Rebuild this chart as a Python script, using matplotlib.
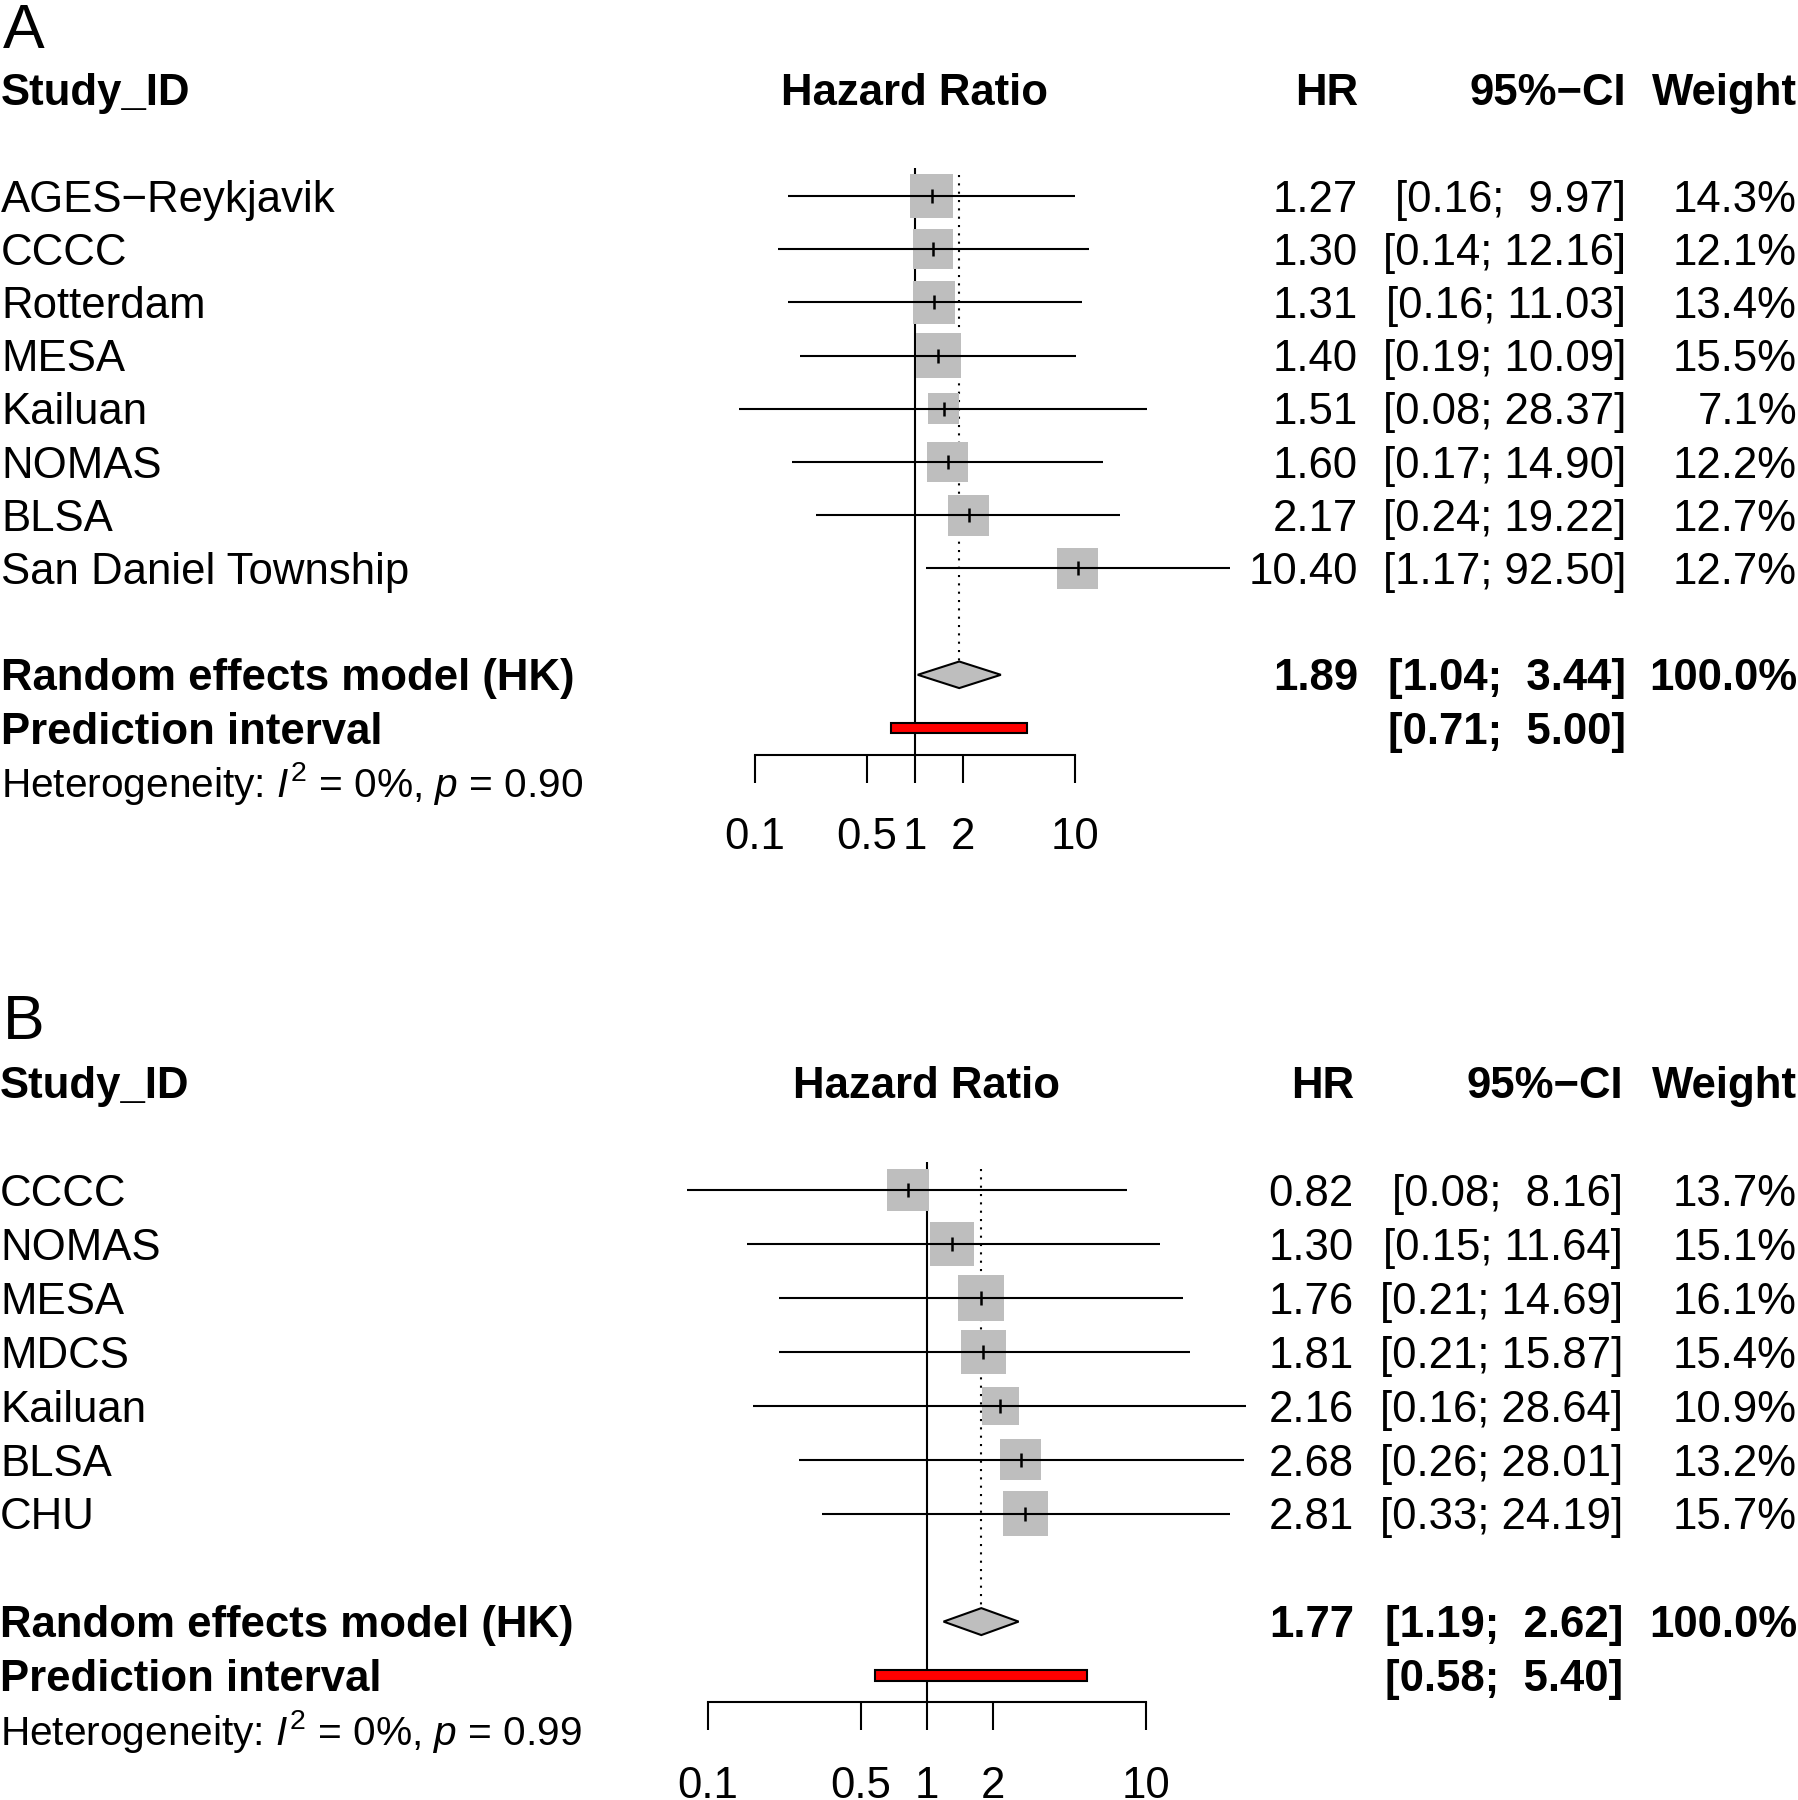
import numpy as np
import matplotlib
matplotlib.use('Agg')
import matplotlib.pyplot as plt
from matplotlib import transforms
from matplotlib.ticker import NullLocator

plt.rcParams['font.family'] = 'Liberation Sans'
plt.rcParams['mathtext.fontset'] = 'custom'
plt.rcParams['mathtext.rm'] = 'Liberation Sans'
plt.rcParams['mathtext.it'] = 'Liberation Sans:italic'

# ---- panel A data
a_studies = ['AGES\u2212Reykjavik', 'CCCC', 'Rotterdam', 'MESA', 'Kailuan',
             'NOMAS', 'BLSA', 'San Daniel Township']
a_hr = [1.27, 1.30, 1.31, 1.40, 1.51, 1.60, 2.17, 10.40]
a_lower = [0.16, 0.14, 0.16, 0.19, 0.08, 0.17, 0.24, 1.17]
a_upper = [9.97, 12.16, 11.03, 10.09, 28.37, 14.90, 19.22, 92.50]
a_weight = [14.3, 12.1, 13.4, 15.5, 7.1, 12.2, 12.7, 12.7]
a_pooled = [1.89, 1.04, 3.44]
a_pred = [0.71, 5.00]
a_pval = 0.90

# ---- panel B data
b_studies = ['CCCC', 'NOMAS', 'MESA', 'MDCS', 'Kailuan', 'BLSA', 'CHU']
b_hr = [0.82, 1.30, 1.76, 1.81, 2.16, 2.68, 2.81]
b_lower = [0.08, 0.15, 0.21, 0.21, 0.16, 0.26, 0.33]
b_upper = [8.16, 11.64, 14.69, 15.87, 28.64, 28.01, 24.19]
b_weight = [13.7, 15.1, 16.1, 15.4, 10.9, 13.2, 15.7]
b_pooled = [1.77, 1.19, 2.62]
b_pred = [0.58, 5.40]
b_pval = 0.99

tick_vals = [0.1, 0.5, 1, 2, 10]
tick_labels = ['0.1', '0.5', '1', '2', '10']

W, H = 1799, 1800
FS = 31.5
LW = 1.5
GREY = '#BEBEBE'

fig = plt.figure(figsize=(W / 100, H / 100), dpi=100)


def draw_panel(ax, letter, letter_px, names, hr, lo, hi, wt, pooled, pred, pval,
               ax_top, ax_bot, head_px, step, mid_px, dec_px,
               left_px, hr_px, ci_px, w_px):
    n = len(names)
    ax.set_xscale('log')
    ax.set_xlim(10 ** (-mid_px / dec_px), 10 ** ((W - mid_px) / dec_px))
    ax.set_ylim((ax_bot - head_px) / step, (ax_top - head_px) / step)
    for s in ['top', 'left', 'right']:
        ax.spines[s].set_visible(False)
    ax.set_yticks([])
    ax.patch.set_alpha(0)

    rows = np.arange(n) + 2
    re_row = n + 3
    pi_row = n + 4
    het_row = n + 5
    axis_row = pi_row + 0.5

    # text helpers: x in figure pixels, y in rows, centered on cap height
    blend = transforms.blended_transform_factory(fig.transFigure, ax.transData)
    tfig = transforms.offset_copy(blend, fig=fig, y=-0.358 * FS, units='points')
    tdat = transforms.offset_copy(ax.transData, fig=fig, y=-0.358 * FS, units='points')

    def txt(x, y, s, ha='left', bold=False, size=FS):
        ax.text(x / W, y, s, transform=tfig, ha=ha, va='baseline', fontsize=size,
                fontweight='bold' if bold else 'normal')

    # header
    txt(left_px, 0, 'Study_ID', bold=True)
    ax.text(1, 0, 'Hazard Ratio', transform=tdat, ha='center', va='baseline',
            fontsize=FS, fontweight='bold')
    txt(hr_px, 0, 'HR', 'right', True)
    txt(ci_px, 0, '95%\u2212CI', 'right', True)
    txt(w_px, 0, 'Weight', 'right', True)

    # reference line and pooled dotted line
    ax.plot([1, 1], [1.48, axis_row], color='black', lw=LW, solid_capstyle='butt')
    ax.plot([pooled[0], pooled[0]], [1.6, re_row - 0.25], color='black', lw=LW,
            ls=(0, (1, 3)))

    # studies
    wt = np.array(wt)
    side_pt = 45.5 * 0.72 * np.sqrt(wt / wt.max())
    ax.scatter(hr, rows, s=side_pt ** 2, marker='s', color=GREY, linewidths=0, zorder=2)
    ax.hlines(rows, lo, hi, color='black', lw=LW, zorder=2.5)
    ax.plot(hr, rows, ls='none', marker='|', ms=9.6, mew=LW + 0.3, color='black', zorder=3)

    for r, nm, h, l, u, w in zip(rows, names, hr, lo, hi, wt):
        txt(left_px, r, nm)
        txt(hr_px, r, f'{h:.2f}', 'right')
        txt(ci_px, r, f'[{l:.2f}; {u:5.2f}]', 'right')
        txt(w_px, r, f'{w:.1f}%', 'right')

    # pooled diamond
    ax.fill([pooled[1], pooled[0], pooled[2], pooled[0]],
            [re_row, re_row - 0.25, re_row, re_row + 0.25],
            facecolor=GREY, edgecolor='black', lw=LW, zorder=3)
    txt(left_px, re_row, 'Random effects model (HK)', bold=True)
    txt(hr_px, re_row, f'{pooled[0]:.2f}', 'right', True)
    txt(ci_px, re_row, f'[{pooled[1]:.2f}; {pooled[2]:5.2f}]', 'right', True)
    txt(w_px, re_row, '100.0%', 'right', True)

    # prediction interval
    ax.fill([pred[0], pred[1], pred[1], pred[0]],
            [pi_row - 0.1, pi_row - 0.1, pi_row + 0.1, pi_row + 0.1],
            facecolor='red', edgecolor='black', lw=LW, zorder=3)
    txt(left_px, pi_row, 'Prediction interval', bold=True)
    txt(ci_px, pi_row, f'[{pred[0]:.2f}; {pred[1]:5.2f}]', 'right', True)

    txt(left_px, het_row, r'Heterogeneity: $I^2$ = 0%, $p$ = ' + f'{pval:.2f}',
        size=FS * 0.93)

    # x axis
    ax.spines['bottom'].set_position(('data', axis_row))
    ax.spines['bottom'].set_bounds(tick_vals[0], tick_vals[-1])
    ax.spines['bottom'].set_linewidth(LW)
    ax.set_xticks(tick_vals)
    ax.set_xticklabels([])
    ax.xaxis.set_minor_locator(NullLocator())
    ax.tick_params(axis='x', direction='out', length=20, width=LW)
    for v, lab in zip(tick_vals, tick_labels):
        ax.text(v, axis_row + 1.48, lab, transform=tdat, ha='center',
                va='baseline', fontsize=FS)

    fig.text(3 / W, 1 - letter_px / H, letter, fontsize=45, va='baseline')


ax_a = fig.add_axes([0, 0.5, 1, 0.5])
draw_panel(ax_a, 'A', 48, a_studies, a_hr, a_lower, a_upper, a_weight,
           a_pooled, a_pred, a_pval,
           ax_top=0, ax_bot=900, head_px=89.6, step=53.2, mid_px=915, dec_px=160,
           left_px=1, hr_px=1358, ci_px=1626, w_px=1797)

ax_b = fig.add_axes([0, 0, 1, 0.5])
draw_panel(ax_b, 'B', 1039, b_studies, b_hr, b_lower, b_upper, b_weight,
           b_pooled, b_pred, b_pval,
           ax_top=900, ax_bot=1800, head_px=1082.6, step=53.9, mid_px=927, dec_px=219,
           left_px=0, hr_px=1354, ci_px=1623, w_px=1797)

fig.savefig('out.png', dpi=100)
